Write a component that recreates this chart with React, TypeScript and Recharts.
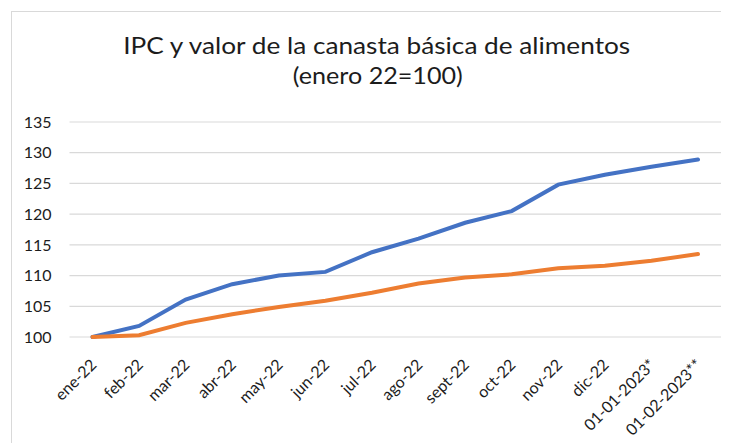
import { LineChart, Line, XAxis, YAxis, CartesianGrid } from 'recharts';

const categories = [
  'ene-22', 'feb-22', 'mar-22', 'abr-22', 'may-22', 'jun-22', 'jul-22',
  'ago-22', 'sept-22', 'oct-22', 'nov-22', 'dic-22', '01-01-2023*', '01-02-2023**',
];
const serieAzul = [100, 101.8, 106.1, 108.6, 110.0, 110.6, 113.8, 116.0, 118.6, 120.5, 124.8, 126.4, 127.7, 128.9];
const serieNaranja = [100, 100.3, 102.3, 103.7, 104.9, 105.9, 107.2, 108.7, 109.7, 110.2, 111.2, 111.6, 112.4, 113.5];
const yTicks = [100, 105, 110, 115, 120, 125, 130, 135];

const data = categories.map((c, i) => ({ mes: c, azul: serieAzul[i], naranja: serieNaranja[i] }));

const FONT = 'Lato, "Open Sans", sans-serif';
const TEXT = '#1c1c1c';

function XTick({ x, y, payload }: { x?: number; y?: number; payload?: { value: string } }) {
  const ax = (x ?? 0) + 1;
  const ay = (y ?? 0) + 25;
  return (
    <text
      x={ax}
      y={ay}
      dy="0.35em"
      textAnchor="end"
      transform={`rotate(-45, ${ax}, ${ay})`}
      fill={TEXT}
      fontSize={16}
      fontFamily={FONT}
    >
      {payload?.value}
    </text>
  );
}

export default function App() {
  return (
    <div style={{ position: 'relative', width: 721, height: 435, overflow: 'hidden', background: '#fff' }}>
      <div
        style={{
          position: 'absolute', left: 3, top: 3, width: 760, height: 480,
          border: '1px solid #d9d9d9', boxSizing: 'border-box',
        }}
      />
      <svg width={721} height={100} style={{ position: 'absolute', left: 0, top: 0 }}>
        <text x={368.7} y={46.3} textAnchor="middle" fontSize={24} fontFamily={FONT} fill={TEXT}
          textLength={507} lengthAdjust="spacingAndGlyphs">
          IPC y valor de la canasta básica de alimentos
        </text>
        <text x={369.8} y={76} textAnchor="middle" fontSize={24} fontFamily={FONT} fill={TEXT}
          textLength={170} lengthAdjust="spacingAndGlyphs">
          (enero 22=100)
        </text>
      </svg>
      <div style={{ position: 'absolute', left: 0, top: 0 }}>
        <LineChart width={721} height={435} data={data} margin={{ top: 114, right: 8, left: 0, bottom: 0 }}>
          <CartesianGrid horizontal vertical={false} stroke="#d9d9d9" strokeWidth={1.2} />
          <XAxis
            dataKey="mes"
            interval={0}
            height={106}
            tickSize={0}
            tickMargin={0}
            axisLine={false}
            tickLine={false}
            padding={{ left: 23, right: 23 }}
            tick={<XTick />}
          />
          <YAxis
            type="number"
            domain={[100, 135]}
            ticks={yTicks}
            width={61.5}
            axisLine={false}
            tickLine={false}
            tickSize={0}
            tickMargin={18}
            tick={{ fill: TEXT, fontSize: 16, fontFamily: FONT }}
          />
          <Line type="linear" dataKey="azul" stroke="#4472C4" strokeWidth={4} dot={false} strokeLinecap="round" isAnimationActive={false} />
          <Line type="linear" dataKey="naranja" stroke="#ED7D31" strokeWidth={4} dot={false} strokeLinecap="round" isAnimationActive={false} />
        </LineChart>
      </div>
    </div>
  );
}
